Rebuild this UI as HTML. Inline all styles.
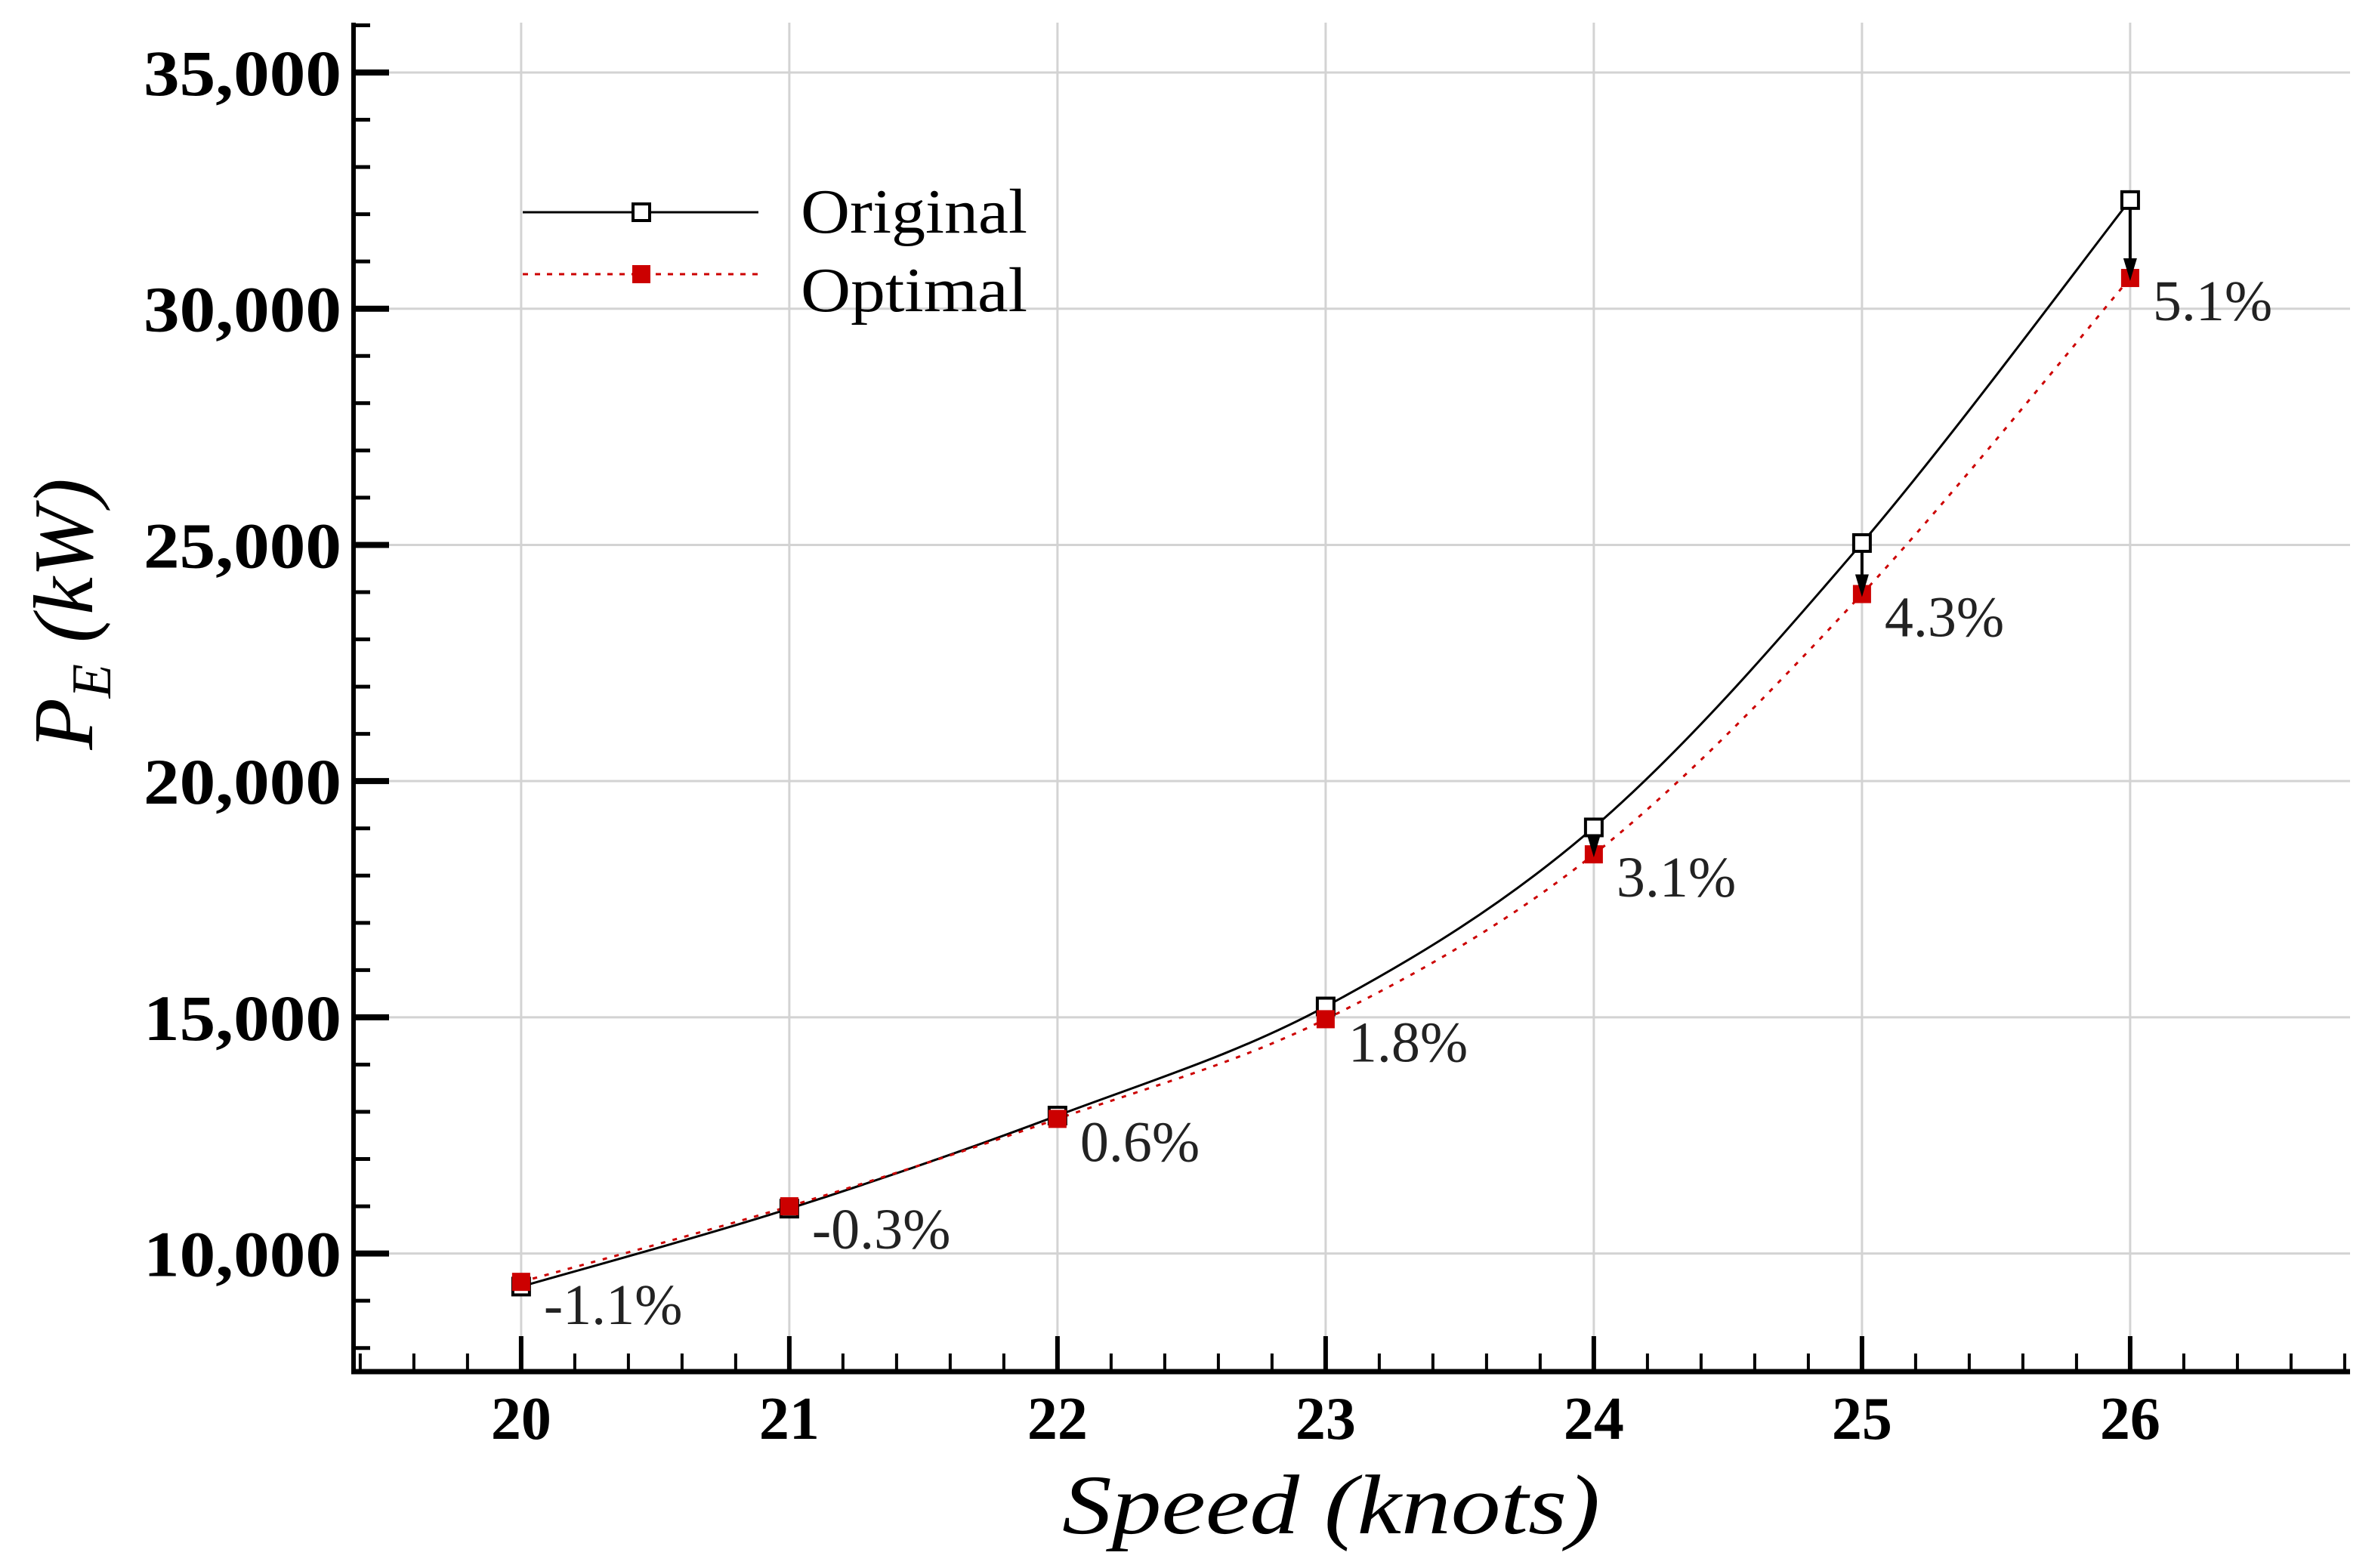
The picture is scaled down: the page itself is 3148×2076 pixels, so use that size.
<!DOCTYPE html>
<html><head><meta charset="utf-8"><style>
html,body{margin:0;padding:0;background:#fff}
svg{display:block}
</style></head><body>
<svg id="chart" width="3148" height="2076" viewBox="0 0 3148 2076" xmlns="http://www.w3.org/2000/svg">
<g id="grid"></g>
<g id="series"></g>
<g id="axes"></g>
<g id="legend">
  <line x1="692" y1="281" x2="1004" y2="281" stroke="#000" stroke-width="3"/>
  <rect x="838" y="270" width="22" height="22" fill="#fff" stroke="#000" stroke-width="4"/>
  <text x="1060" y="308" font-family="Liberation Serif, serif" font-size="84" fill="#000" textLength="300" lengthAdjust="spacingAndGlyphs">Original</text>
  <line x1="692" y1="363" x2="1004" y2="363" stroke="#cc0000" stroke-width="3" stroke-dasharray="7,9"/>
  <rect x="837" y="351" width="24" height="24" fill="#cc0000"/>
  <text x="1060" y="412" font-family="Liberation Serif, serif" font-size="84" fill="#000" textLength="300" lengthAdjust="spacingAndGlyphs">Optimal</text>
</g>
<text x="1762" y="2030" text-anchor="middle" font-family="Liberation Serif, serif" font-style="italic" font-size="112" fill="#000" textLength="712" lengthAdjust="spacingAndGlyphs">Speed (knots)</text>
<g transform="translate(122,813) rotate(-90)">
  <text x="0" y="0" text-anchor="middle" font-family="Liberation Serif, serif" font-style="italic" font-size="112" fill="#000">P<tspan font-size="74" dy="24">E</tspan><tspan dy="-24"> (kW)</tspan></text>
</g>
</svg>
<script>
const speeds = [20, 21, 22, 23, 24, 25, 26];
const original = [9300, 10950, 12920, 15230, 19020, 25040, 32300];
const optimal = [9400, 11000, 12850, 14960, 18450, 23960, 30650];
const pctLabels = ["-1.1%", "-0.3%", "0.6%", "1.8%", "3.1%", "4.3%", "5.1%"];
const yTicks = [10000, 15000, 20000, 25000, 30000, 35000];
const yTickLabels = ["10,000", "15,000", "20,000", "25,000", "30,000", "35,000"];
const xTicks = [20, 21, 22, 23, 24, 25, 26];
const arrowIdx = [4, 5, 6];

const NS = "http://www.w3.org/2000/svg";
const L = 468, R = 3111, T = 30, B = 1816;
const xMin = 19.375, xMax = 26.82, yMin = 7500, yMax = 36055;
const X = v => L + (v - xMin) / (xMax - xMin) * (R - L);
const Y = v => B - (v - yMin) / (yMax - yMin) * (B - T);
function mk(tag, attrs, parent) {
  const e = document.createElementNS(NS, tag);
  for (const k in attrs) e.setAttribute(k, attrs[k]);
  parent.appendChild(e);
  return e;
}
const grid = document.getElementById('grid');
const axes = document.getElementById('axes');
const series = document.getElementById('series');

yTicks.forEach((v, i) => {
  const g = mk('line', {x1: L, x2: R, y1: Y(v), y2: Y(v), stroke: '#d3d3d3', 'stroke-width': 3}, grid);
  
  
  const t = mk('text', {x: 452, y: Y(v) + 30, 'text-anchor': 'end', 'font-family': 'Liberation Serif, serif', 'font-weight': 'bold', 'font-size': 86, fill: '#000', textLength: 262, lengthAdjust: 'spacingAndGlyphs'}, axes);
  t.textContent = yTickLabels[i];
  
  
});
xTicks.forEach(v => {
  const g = mk('line', {x1: X(v), x2: X(v), y1: T, y2: B, stroke: '#d3d3d3', 'stroke-width': 3}, grid);
  
  
  const t = mk('text', {x: X(v), y: 1905, 'text-anchor': 'middle', 'font-family': 'Liberation Serif, serif', 'font-weight': 'bold', 'font-size': 80, fill: '#000'}, axes);
  t.textContent = v;
  
  
});
for (let v = 8000; v <= 36000; v += 1000) {
  const major = v % 5000 === 0;
  mk('line', {x1: L, x2: L + (major ? 47 : 22), y1: Y(v), y2: Y(v), stroke: '#000', 'stroke-width': major ? 8 : 5}, axes);
}
for (let k = 0; ; k++) {
  const v = 19.4 + k * 0.2;
  if (v > xMax) break;
  const major = Math.abs(v - Math.round(v)) < 1e-6;
  mk('line', {x1: X(v), x2: X(v), y1: B, y2: B - (major ? 47 : 24), stroke: '#000', 'stroke-width': major ? 6 : 4}, axes);
}
const ya = mk('line', {x1: L, x2: L, y1: T, y2: B + 3, stroke: '#000', 'stroke-width': 6}, axes);


const xa = mk('line', {x1: L - 3, x2: R, y1: B, y2: B, stroke: '#000', 'stroke-width': 7}, axes);



function smoothPath(xs, ys) {
  const p = xs.map((x, i) => [X(x), Y(ys[i])]);
  let d = `M${p[0][0]},${p[0][1]}`;
  for (let i = 0; i < p.length - 1; i++) {
    const p0 = p[Math.max(i - 1, 0)], p1 = p[i], p2 = p[i + 1], p3 = p[Math.min(i + 2, p.length - 1)];
    const c1 = [p1[0] + (p2[0] - p0[0]) / 6, p1[1] + (p2[1] - p0[1]) / 6];
    const c2 = [p2[0] - (p3[0] - p1[0]) / 6, p2[1] - (p3[1] - p1[1]) / 6];
    d += ` C${c1[0]},${c1[1]} ${c2[0]},${c2[1]} ${p2[0]},${p2[1]}`;
  }
  return d;
}
const lo = mk('path', {d: smoothPath(speeds, original), fill: 'none', stroke: '#000', 'stroke-width': 3}, series);


const lp = mk('path', {d: smoothPath(speeds, optimal), fill: 'none', stroke: '#cc0000', 'stroke-width': 3, 'stroke-dasharray': '6,10'}, series);



speeds.forEach((s, i) => {
  const m = mk('rect', {x: X(s) - 11, y: Y(original[i]) - 11, width: 22, height: 22, fill: '#fff', stroke: '#000', 'stroke-width': 4}, series);
  
  
});
speeds.forEach((s, i) => {
  const m = mk('rect', {x: X(s) - 12, y: Y(optimal[i]) - 12, width: 24, height: 24, fill: '#cc0000'}, series);
  
  
});
arrowIdx.forEach(i => {
  const x = X(speeds[i]), y1 = Y(original[i]) + 12, y2 = Y(optimal[i]);
  const a = mk('line', {x1: x, x2: x, y1: y1, y2: y2 - 20, stroke: '#000', 'stroke-width': 4}, series);
  
  
  mk('polygon', {points: `${x - 9},${y2 - 26} ${x + 9},${y2 - 26} ${x},${y2 + 4}`, fill: '#000'}, series);
});
speeds.forEach((s, i) => {
  const t = mk('text', {x: X(s) + 30, y: Y(optimal[i]) + 56, 'font-family': 'Liberation Serif, serif', 'font-size': 76, fill: '#222'}, series);
  t.textContent = pctLabels[i];
  
  
});
</script>
</body></html>
